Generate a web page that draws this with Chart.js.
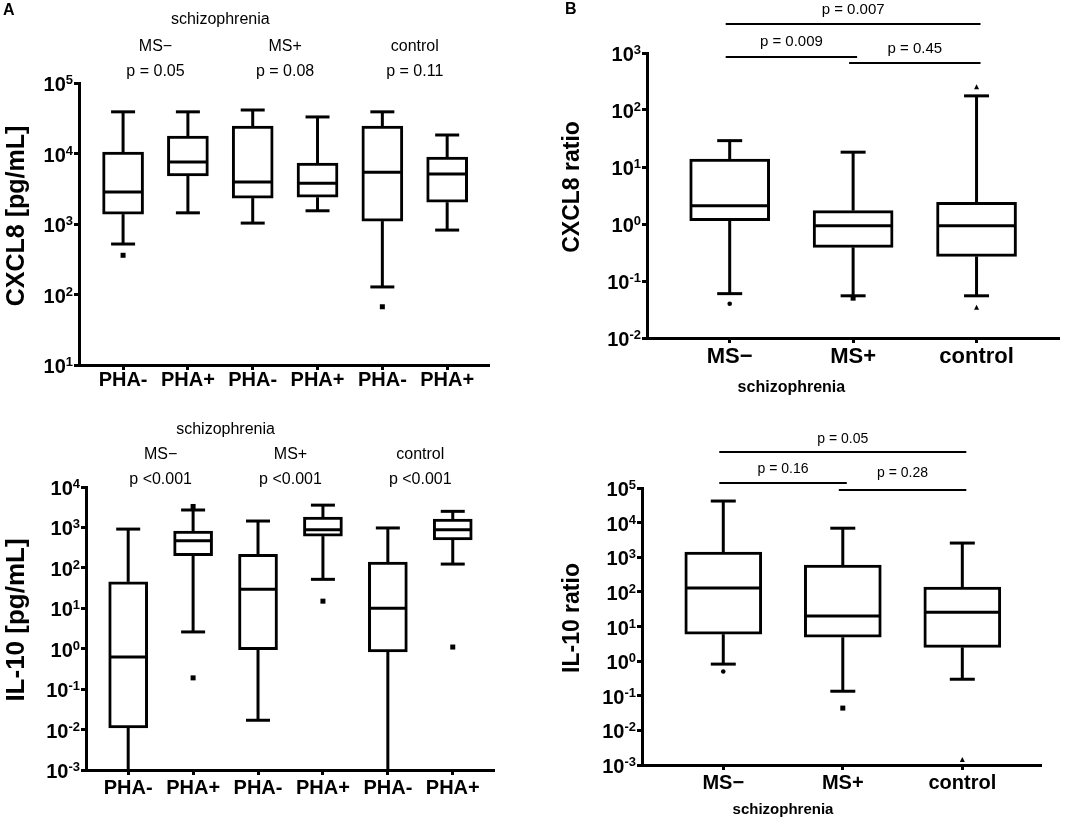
<!DOCTYPE html>
<html>
<head>
<meta charset="utf-8">
<script src="https://cdn.jsdelivr.net/npm/chart.js@4.4.0/dist/chart.umd.min.js"></script>
<style>
  body { margin: 0; background: #fff; }
  canvas { position: absolute; }
</style>
</head>
<body>
<canvas id="a1" width="540" height="410" style="left:0;top:0"></canvas>
<canvas id="a2" width="540" height="412" style="left:0;top:410px"></canvas>
<canvas id="b1" width="544" height="410" style="left:540px;top:0"></canvas>
<canvas id="b2" width="544" height="412" style="left:540px;top:410px"></canvas>
<script>
var FONT = '"Liberation Sans", Arial, sans-serif';

// panel A: PHA stimulation per group
var catsA = ['PHA-', 'PHA+', 'PHA-', 'PHA+', 'PHA-', 'PHA+'];
var groupsA = ['MS\u2212', 'MS+', 'control'];
var pCx = ['p = 0.05', 'p = 0.08', 'p = 0.11'];
var pIl = ['p <0.001', 'p <0.001', 'p <0.001'];

// CXCL8 [pg/mL]
var cxMin = [520, 1440, 1030, 1540, 128, 820];
var cxQ1 = [1380, 4800, 2330, 2400, 1100, 2040];
var cxMed = [2840, 7560, 3950, 3800, 5400, 5100];
var cxQ3 = [10500, 17700, 24500, 7330, 24500, 8900];
var cxMax = [39000, 39000, 41400, 33000, 39000, 18300];
var cxOut = [[360], [], [], [], [67], []];
var cxTicks = [1e1, 1e2, 1e3, 1e4, 1e5];

// IL-10 [pg/mL]  (0.0005 = whisker runs off the bottom of the axis)
var ilMin = [0.0005, 2.6, 0.017, 52, 0.0005, 124];
var ilQ1 = [0.011, 200, 0.95, 610, 0.83, 490];
var ilMed = [0.62, 470, 29.7, 870, 10, 870];
var ilQ3 = [45, 810, 215, 1800, 138, 1620];
var ilMax = [910, 2700, 1440, 3560, 970, 2500];
var ilOut = [[], [0.19, 3300], [], [15], [], [1.1]];
var ilTicks = [1e-3, 1e-2, 1e-1, 1e0, 1e1, 1e2, 1e3, 1e4];

// panel B: ratios
var catsB = ['MS\u2212', 'MS+', 'control'];

var crMin = [0.06, 0.055, 0.055];
var crQ1 = [1.14, 0.39, 0.27];
var crMed = [2.09, 0.93, 0.93];
var crQ3 = [13.8, 1.72, 2.4];
var crMax = [29, 18.2, 177];
var crOut = [[0.04], [0.05], [250, 0.034]];
var crP = ['p = 0.009', 'p = 0.45', 'p = 0.007'];
var crTicks = [1e-2, 1e-1, 1e0, 1e1, 1e2, 1e3];

var irMin = [0.82, 0.135, 0.3];
var irQ1 = [6.0, 4.9, 2.5];
var irMed = [129, 20, 26];
var irQ3 = [1410, 590, 138];
var irMax = [42000, 6900, 2570];
var irOut = [[0.5], [0.044], [0.0014]];
var irP = ['p = 0.16', 'p = 0.28', 'p = 0.05'];
var irTicks = [1e-3, 1e-2, 1e-1, 1e0, 1e1, 1e2, 1e3, 1e4, 1e5];

var pairs = [[0, 1], [1, 2], [0, 2]];

function seg(ctx, x1, y1, x2, y2) {
  ctx.beginPath(); ctx.moveTo(x1, y1); ctx.lineTo(x2, y2); ctx.stroke();
}

function txt(ctx, s, x, y, font, align) {
  ctx.font = font + ' ' + FONT;
  ctx.textAlign = align || 'center';
  ctx.textBaseline = 'middle';
  ctx.fillText(s, x, y);
}

function marker(ctx, shape, x, y) {
  ctx.beginPath();
  if (shape == 'circle') {
    ctx.arc(x, y, 2.3, 0, Math.PI * 2);
  } else if (shape == 'triangle') {
    ctx.moveTo(x, y - 3); ctx.lineTo(x + 2.5, y + 2); ctx.lineTo(x - 2.5, y + 2); ctx.closePath();
  } else {
    ctx.rect(x - 2.5, y - 2.5, 5, 5);
  }
  ctx.fill();
}

var boxPlugin = {
  id: 'boxes',
  afterDatasetsDraw: function (chart, args, o) {
    var ctx = chart.ctx, xs = chart.scales.x, ys = chart.scales.y, a = chart.chartArea;
    ctx.save();
    ctx.beginPath(); ctx.rect(a.left, 0, a.right - a.left, a.bottom); ctx.clip();
    ctx.strokeStyle = '#000'; ctx.fillStyle = '#000'; ctx.lineWidth = 3;
    o.med.forEach(function (m, i) {
      var x = xs.getPixelForValue(i), h = o.capW / 2, b = o.boxW / 2;
      var yTop = ys.getPixelForValue(o.max[i]), yBot = ys.getPixelForValue(o.min[i]);
      seg(ctx, x, ys.getPixelForValue(o.q3[i]), x, yTop);
      seg(ctx, x - h, yTop, x + h, yTop);
      seg(ctx, x, ys.getPixelForValue(o.q1[i]), x, yBot);
      seg(ctx, x - h, yBot, x + h, yBot);
      var ym = ys.getPixelForValue(m);
      seg(ctx, x - b + 2, ym, x + b - 2, ym);
      o.out[i].forEach(function (v) {
        marker(ctx, o.shapes[i], x, ys.getPixelForValue(v));
      });
    });
    ctx.restore();
  },
  afterDraw: function (chart, args, o) {
    var ctx = chart.ctx, xs = chart.scales.x, ys = chart.scales.y, a = chart.chartArea;
    ctx.save();
    ctx.fillStyle = '#000'; ctx.strokeStyle = '#000';
    // y tick labels as 10 with raised exponent
    o.ticks.forEach(function (v) {
      var y = ys.getPixelForValue(v), e = String(Math.round(Math.log10(v)));
      ctx.font = 'bold 13px ' + FONT;
      var ew = ctx.measureText(e).width, xr = a.left - 6;
      ctx.textAlign = 'left'; ctx.textBaseline = 'alphabetic';
      ctx.fillText(e, xr - ew, y + 1);
      ctx.font = 'bold 20px ' + FONT; ctx.textAlign = 'right';
      ctx.fillText('10', xr - ew, y + 8);
    });
    // x labels
    o.cats.forEach(function (c, i) {
      txt(ctx, c, xs.getPixelForValue(i), o.xLabY, o.xLabFont);
    });
    // y title
    ctx.save();
    ctx.translate(o.yTitle[1], o.yTitle[2]);
    ctx.rotate(-Math.PI / 2);
    txt(ctx, o.yTitle[0], 0, 0, o.yTitle[3]);
    ctx.restore();
    if (o.tag) txt(ctx, o.tag[0], o.tag[1], o.tag[2], 'bold 16px', 'left');
    // group headers (panel A)
    if (o.groups) {
      o.groups.forEach(function (g, k) {
        var gx = (xs.getPixelForValue(2 * k) + xs.getPixelForValue(2 * k + 1)) / 2;
        txt(ctx, g, gx, o.groupY, '16px');
        txt(ctx, o.pv[k], gx, o.pY, '16px');
      });
      var sx = (xs.getPixelForValue(0.5) + xs.getPixelForValue(2.5)) / 2;
      txt(ctx, 'schizophrenia', sx, o.schY, '16px');
    }
    // significance brackets (panel B)
    if (o.brackets) {
      ctx.lineWidth = 2;
      pairs.forEach(function (p, k) {
        var x1 = xs.getPixelForValue(p[0]), x2 = xs.getPixelForValue(p[1]);
        var bk = o.brackets[k];
        seg(ctx, x1 - 4, bk[0], x2 + 4, bk[0]);
        txt(ctx, o.pv[k], (x1 + x2) / 2, bk[1], o.pFont);
      });
      var sx2 = (xs.getPixelForValue(0) + xs.getPixelForValue(1)) / 2;
      txt(ctx, 'schizophrenia', sx2, o.schY, o.schFont);
    }
    ctx.restore();
  }
};

function panel(id, cats, st, yr, xr, area, box, notes) {
  var canvas = document.getElementById(id);
  var W = canvas.width, H = canvas.height;
  notes.cats = cats;
  notes.med = st.med; notes.q1 = st.q1; notes.q3 = st.q3;
  notes.min = st.min; notes.max = st.max; notes.out = st.out;
  notes.shapes = box.shapes; notes.capW = box.capW; notes.boxW = box.boxW;
  var axisLine = { display: true, width: 3, color: '#000' };
  var marks = { drawOnChartArea: false, drawTicks: true, tickLength: 5, lineWidth: 3, color: '#000', offset: false };
  return new Chart(canvas, {
    type: 'bar',
    data: {
      datasets: [{
        data: cats.map(function (c, i) { return { x: i, y: [st.q1[i], st.q3[i]] }; }),
        backgroundColor: '#fff',
        borderColor: '#000',
        borderWidth: 3,
        borderSkipped: false,
        barThickness: box.boxW
      }]
    },
    options: {
      responsive: false,
      animation: false,
      events: [],
      layout: { padding: { left: 0, top: area.top, right: W - area.right, bottom: 0 } },
      plugins: { legend: { display: false }, tooltip: { enabled: false }, boxes: notes },
      scales: {
        x: {
          type: 'linear', min: xr[0], max: xr[1], offset: false,
          afterBuildTicks: function (s) { s.ticks = cats.map(function (c, i) { return { value: i }; }); },
          afterFit: function (s) { s.height = H - area.bottom; },
          ticks: { display: false },
          grid: marks, border: axisLine
        },
        y: {
          type: 'logarithmic', min: yr[0], max: yr[1],
          afterBuildTicks: function (s) { s.ticks = notes.ticks.map(function (v) { return { value: v }; }); },
          afterFit: function (s) { s.width = area.left; },
          ticks: { display: false },
          grid: marks, border: axisLine
        }
      }
    },
    plugins: [boxPlugin]
  });
}

panel('a1', catsA,
  { min: cxMin, q1: cxQ1, med: cxMed, q3: cxQ3, max: cxMax, out: cxOut },
  [1e1, 1e5], [-0.68, 5.63], { left: 79, top: 83, right: 488, bottom: 365 },
  { boxW: 41, capW: 24, shapes: ['square', 'square', 'square', 'square', 'square', 'square'] },
  { ticks: cxTicks, xLabY: 380, xLabFont: 'bold 20px', yTitle: ['CXCL8 [pg/mL]', 17, 216, 'bold 25px'],
    tag: ['A', 3, 11], groups: groupsA, pv: pCx, groupY: 47, pY: 72, schY: 20 });

panel('a2', catsA,
  { min: ilMin, q1: ilQ1, med: ilMed, q3: ilQ3, max: ilMax, out: ilOut },
  [1e-3, 1e4], [-0.65, 5.62], { left: 86, top: 77, right: 493, bottom: 360 },
  { boxW: 39, capW: 24, shapes: ['square', 'square', 'square', 'square', 'square', 'square'] },
  { ticks: ilTicks, xLabY: 378, xLabFont: 'bold 20px', yTitle: ['IL-10 [pg/mL]', 17, 210, 'bold 26px'],
    groups: groupsA, pv: pIl, groupY: 45, pY: 70, schY: 20 });

panel('b1', catsB,
  { min: crMin, q1: crQ1, med: crMed, q3: crQ3, max: crMax, out: crOut },
  [1e-2, 1e3], [-0.67, 2.66], { left: 107, top: 53, right: 518, bottom: 338 },
  { boxW: 80, capW: 25, shapes: ['circle', 'square', 'triangle'] },
  { ticks: crTicks, xLabY: 357, xLabFont: 'bold 22px', yTitle: ['CXCL8 ratio', 33, 187, 'bold 23px'],
    tag: ['B', 25, 10], pv: crP, brackets: [[57, 42], [63, 49], [24, 10]], pFont: '15px',
    schY: 388, schFont: 'bold 16px' });

panel('b2', catsB,
  { min: irMin, q1: irQ1, med: irMed, q3: irQ3, max: irMax, out: irOut },
  [1e-3, 1e5], [-0.68, 2.65], { left: 102, top: 78, right: 500, bottom: 355 },
  { boxW: 77, capW: 25, shapes: ['circle', 'square', 'triangle'] },
  { ticks: irTicks, xLabY: 373, xLabFont: 'bold 20px', yTitle: ['IL-10 ratio', 33, 208, 'bold 23px'],
    pv: irP, brackets: [[73, 59], [80, 63], [42, 29]], pFont: '14px',
    schY: 400, schFont: 'bold 15px' });
</script>
</body>
</html>
